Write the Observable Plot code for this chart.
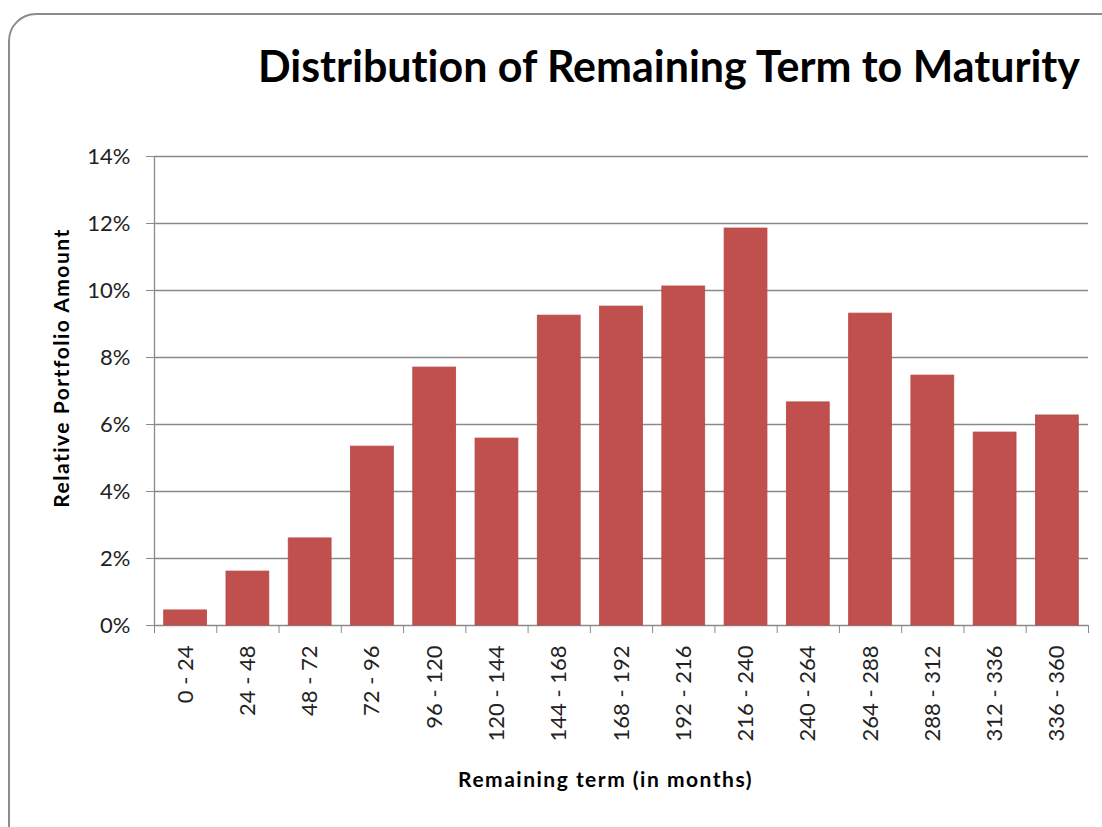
<!DOCTYPE html>
<html>
<head>
<meta charset="utf-8">
<script src="https://cdn.jsdelivr.net/npm/d3@7"></script>
<script src="https://cdn.jsdelivr.net/npm/@observablehq/plot@0.6"></script>
<style>
  html, body { margin: 0; padding: 0; background: #fff; overflow: hidden; }
  body { width: 1102px; height: 827px; position: relative; font-family: Lato, "Open Sans", sans-serif; }
  #frame { position: absolute; left: 8px; top: 13px; width: 1200px; height: 900px;
           border: 2px solid #8c8c8c; border-radius: 28px; box-sizing: border-box; }
  #title { position: absolute; left: 258px; top: 44px; margin: 0; font-size: 43px; font-weight: 700;
           color: #000; white-space: nowrap; transform-origin: 0 0; line-height: 1;
           font-variant-ligatures: none; }
  #chart { position: absolute; left: 0; top: 0; }
</style>
</head>
<body>
<div id="frame"></div>
<h1 id="title">Distribution of Remaining Term to Maturity</h1>
<div id="chart"></div>
<script>
// Data
const binStart = [0, 24, 48, 72, 96, 120, 144, 168, 192, 216, 240, 264, 288, 312, 336];
const binEnd   = [24, 48, 72, 96, 120, 144, 168, 192, 216, 240, 264, 288, 312, 336, 360];
const binLabels = ["0 - 24", "24 - 48", "48 - 72", "72 - 96", "96 - 120", "120 - 144", "144 - 168",
  "168 - 192", "192 - 216", "216 - 240", "240 - 264", "264 - 288", "288 - 312", "312 - 336", "336 - 360"];
const shareValues = [0.0045, 0.0161, 0.0260, 0.0534, 0.0770, 0.0558, 0.0925, 0.0952, 0.1012, 0.1185,
  0.0666, 0.0931, 0.0746, 0.0576, 0.0627];
const yTicks = [0, 0.02, 0.04, 0.06, 0.08, 0.10, 0.12, 0.14];
const yTitle = "Relative Portfolio Amount";
const xTitle = "Remaining term (in months)";

const data = binStart.map((s, i) => ({start: s, end: binEnd[i], label: binLabels[i], value: shareValues[i]}));
const boundaries = [...binStart, binEnd[binEnd.length - 1]];
const centers = data.map(d => (d.start + d.end) / 2);
const labelAt = new Map(data.map(d => [(d.start + d.end) / 2, d.label]));

const plot = Plot.plot({
  width: 1102,
  height: 827,
  marginLeft: 154,
  marginRight: 14,
  marginTop: 156,
  marginBottom: 202,
  style: {background: "transparent", fontFamily: "Lato, 'Open Sans', sans-serif", color: "#222"},
  x: {domain: [0, 360], label: null},
  y: {domain: [0, 0.14], label: null},
  marks: [
    Plot.ruleY(yTicks, {stroke: "#8a8a8a", strokeWidth: 1.3}),
    Plot.rectY(data, {x1: "start", x2: "end", y: "value", insetLeft: 9.7, insetRight: 9.7,
      fill: "#C0504D", stroke: "#b84a47", strokeWidth: 0.8}),
    Plot.ruleX([0], {y1: 0, y2: 0.14, stroke: "#8a8a8a", strokeWidth: 1.3}),
    Plot.axisY({ticks: yTicks, tickSize: 8, tickPadding: 16, tickFormat: d3.format(".0%"),
      fontSize: 22, stroke: "#8a8a8a", fill: "#222", label: null}),
    Plot.axisX({ticks: boundaries, tickSize: 8, tickFormat: () => "", stroke: "#8a8a8a", label: null}),
    Plot.axisX({ticks: centers, tickSize: 0, tickPadding: 20, tickRotate: -90,
      tickFormat: d => labelAt.get(d), fontSize: 22, fill: "#222", label: null}),
    Plot.text([yTitle], {frameAnchor: "left", dx: -92, dy: -23, rotate: -90,
      textAnchor: "middle", lineAnchor: "middle",
      fontSize: 21, fontWeight: "bold", fill: "#000"}),
    Plot.text([xTitle], {frameAnchor: "bottom", dx: -16, dy: 155,
      textAnchor: "middle", lineAnchor: "middle",
      fontSize: 21, fontWeight: "bold", fill: "#000"})
  ]
});
document.getElementById("chart").appendChild(plot);

// widen the axis titles slightly (Calibri-like spacing)
d3.select(plot).selectAll("text")
  .filter(function() { return this.textContent === yTitle || this.textContent === xTitle; })
  .attr("letter-spacing", "1.5px");

// fit the title width to the reference span
const t = document.getElementById("title");
const w = t.getBoundingClientRect().width;
t.style.transform = `scaleX(${822 / w})`;
</script>
</body>
</html>
